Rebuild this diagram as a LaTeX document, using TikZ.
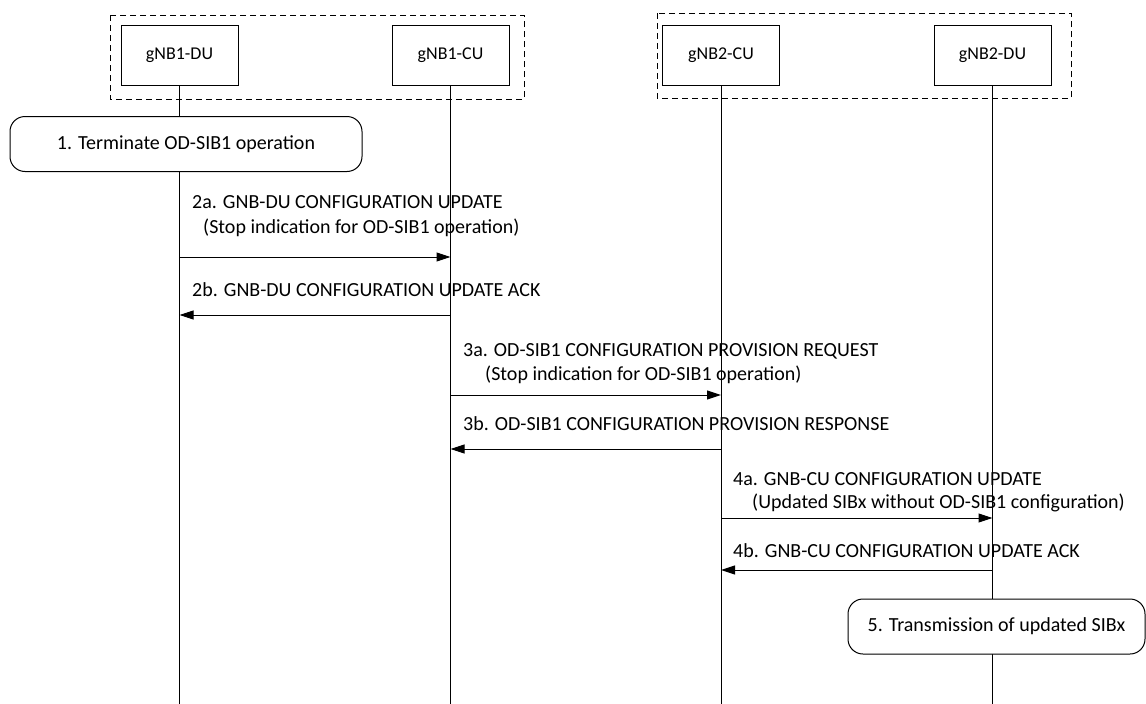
\documentclass[tikz,border=0pt]{standalone}
\usepackage{fontspec}
\setmainfont{Carlito}
\usetikzlibrary{arrows.meta,positioning}
\tikzset{
  entity/.style={draw, line width=1pt, minimum width=117pt, minimum height=60pt, inner sep=0pt,
                 font=\fontsize{18}{22}\selectfont},
  group/.style={draw, line width=1pt, dash pattern=on 6pt off 4pt},
  lifeline/.style={line width=1pt},
  msg/.style={-{Triangle[length=14pt,width=9pt]}, line width=1pt},
  mlbl/.style={anchor=base west, inner sep=0pt, font=\fontsize{20}{24}\selectfont},
  action/.style={draw, fill=white, line width=1pt, rounded corners=15pt, inner sep=0pt,
                 minimum height=55pt, font=\fontsize{20}{24}\selectfont},
}
\newcommand{\msgto}[3]{\draw[msg] (#1.south |- 0,#3) -- (#2.south |- 0,#3);}

\begin{document}
\begin{tikzpicture}[x=1pt,y=-1pt]
  \useasboundingbox (0,0) rectangle (1146,704);
  \def\YBOT{704}
  % network elements
  \node[entity] (du1) at (179.5,55) {gNB1-DU};
  \node[entity] (cu1) at (450.5,55) {gNB1-CU};
  \node[entity] (cu2) at (721,55)   {gNB2-CU};
  \node[entity] (du2) at (992.5,55) {gNB2-DU};
  \draw[group] (110,15) rectangle (524,99);
  \draw[group] (657,13) rectangle (1071,98);

  \foreach \p in {du1,cu1,cu2,du2}{\draw[lifeline] (\p.south) -- (\p.south |- 0,\YBOT);}

  \node[action, minimum width=352pt] (st1) at (186,144) {1. Terminate OD-SIB1 operation};

  \node[mlbl] (l2a) at (192,208) {2a. GNB-DU CONFIGURATION UPDATE};
  \node[mlbl] (l2a2) at (203,233) {(Stop indication for OD-SIB1 operation)};
  \msgto{du1}{cu1}{257}
  \node[mlbl] (l2b) at (192,296) {2b. GNB-DU CONFIGURATION UPDATE ACK};
  \msgto{cu1}{du1}{315}

  \node[mlbl] (l3a) at (463,356) {3a. OD-SIB1 CONFIGURATION PROVISION REQUEST};
  \node[mlbl] (l3a2) at (485,380) {(Stop indication for OD-SIB1 operation)};
  \msgto{cu1}{cu2}{395}
  \node[mlbl] (l3b) at (463,430) {3b. OD-SIB1 CONFIGURATION PROVISION RESPONSE};
  \msgto{cu2}{cu1}{449}

  \node[mlbl] (l4a) at (733,485) {4a. GNB-CU CONFIGURATION UPDATE};
  \node[mlbl] (l4a2) at (752,508) {(Updated SIBx without OD-SIB1 configuration)};
  \msgto{cu2}{du2}{518}
  \node[mlbl] (l4b) at (733,557) {4b. GNB-CU CONFIGURATION UPDATE ACK};
  \msgto{du2}{cu2}{570}

  \node[action, minimum width=297pt] (st5) at (996.5,626.5) {5. Transmission of updated SIBx};
\end{tikzpicture}
\end{document}
